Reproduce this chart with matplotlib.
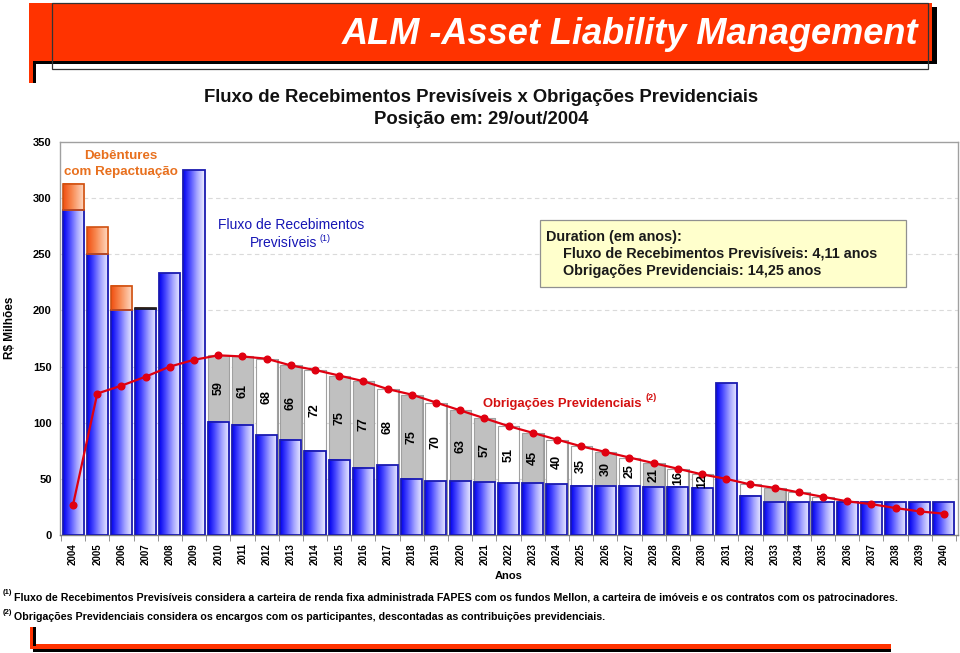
import numpy as np
import matplotlib
matplotlib.use("Agg")
import matplotlib.pyplot as plt
from matplotlib.colors import LinearSegmentedColormap
from matplotlib.patches import Rectangle

plt.rcParams['font.family'] = ['Liberation Sans', 'DejaVu Sans']

# ---------------- data ----------------
years = list(range(2004, 2041))
recebimentos = [289, 250, 200, 201, 233, 325, 101, 98, 89, 85, 75, 67, 60, 62, 50, 48,
                48, 47, 46, 46, 45, 44, 44, 44, 43, 43, 42, 135, 35, 29, 29, 29, 29, 29,
                29, 29, 29]
debentures = [23.5, 24, 22, 1, 0, 0, 0, 0, 0, 0, 0, 0, 0, 0, 0, 0, 0, 0, 0, 0, 0, 0, 0, 0,
              0, 0, 0, 0, 0, 0, 0, 0, 0, 0, 0, 0, 0]
obrigacoes = [27, 126, 133, 141, 150, 156, 160, 159, 157, 151, 147, 142, 137, 130, 125, 118,
              111, 104, 97, 91, 85, 79, 74, 69, 64, 59, 54, 50, 45, 42, 38, 34, 30, 27.5,
              24, 21, 19]
deficit_labels = {2010: 59, 2011: 61, 2012: 68, 2013: 66, 2014: 72, 2015: 75, 2016: 77,
                  2017: 68, 2018: 75, 2019: 70, 2020: 63, 2021: 57, 2022: 51, 2023: 45,
                  2024: 40, 2025: 35, 2026: 30, 2027: 25, 2028: 21, 2029: 16, 2030: 12}
gray_years = [2010, 2011, 2013, 2015, 2016, 2018, 2020, 2021, 2023, 2026, 2028, 2033]
yticks = [0, 50, 100, 150, 200, 250, 300, 350]

W, H = 960, 653
fig = plt.figure(figsize=(W / 100, H / 100), dpi=100)


def fx(px):
    return px / W


def fy(py):
    return 1 - py / H


# ---------------- header decoration ----------------
def frect(x0, y0, x1, y1, **kw):
    fig.add_artist(Rectangle((fx(x0), fy(y1)), fx(x1) - fx(x0), fy(y0) - fy(y1),
                             transform=fig.transFigure, **kw))


red = '#FF3300'
frect(33, 7, 937, 64, facecolor='black', edgecolor='none', zorder=1)
frect(29, 3, 932, 61, facecolor=red, edgecolor='none', zorder=2)
frect(29, 61, 33, 83, facecolor=red, edgecolor='none', zorder=2)
frect(33, 61, 36, 83, facecolor='black', edgecolor='none', zorder=2)
frect(52, 3, 928, 69, facecolor='none', edgecolor='#333333', lw=0.9, zorder=3)
fig.text(fx(918), fy(34), 'ALM -Asset Liability Management', color='white',
         fontsize=26, fontweight='bold', fontstyle='italic', ha='right', va='center',
         zorder=4)

# bottom decoration
frect(33, 646, 891, 652, facecolor='black', edgecolor='none', zorder=1)
frect(30, 644, 891, 649, facecolor=red, edgecolor='none', zorder=2)
frect(30, 627, 33, 649, facecolor=red, edgecolor='none', zorder=2)
frect(33, 627, 36, 646, facecolor='black', edgecolor='none', zorder=3)

# titles
fig.text(fx(481), fy(98), 'Fluxo de Recebimentos Previsíveis x Obrigações Previdenciais',
         fontsize=13.3, fontweight='bold', ha='center', va='center', color='#111111')
fig.text(fx(481), fy(120), 'Posição em: 29/out/2004', fontsize=13.3, fontweight='bold',
         ha='center', va='center', color='#111111')

# ---------------- axes ----------------
ax = fig.add_axes([fx(60), fy(535), fx(958) - fx(60), fy(142) - fy(535)])
x = np.arange(len(years))
bw = 0.87

blue_cmap = LinearSegmentedColormap.from_list(
    'blue', [(0, '#0000EE'), (0.3, '#4848FF'), (0.65, '#A8A8FF'), (1, '#F2F2FF')])
orange_cmap = LinearSegmentedColormap.from_list(
    'orange', [(0, '#F04E10'), (0.4, '#F88850'), (1, '#FFE0CC')])
grad = np.linspace(0, 1, 256).reshape(1, -1)

# obligations bars (gray/white) behind
for i, yr in enumerate(years):
    if obrigacoes[i] > recebimentos[i]:
        fc = '#C0C0C0' if yr in gray_years else 'white'
        ax.bar(x[i] + 0.06, obrigacoes[i], bw, color='#9a9a9a', edgecolor='none', zorder=1.9)
        ax.bar(x[i], obrigacoes[i], bw, color=fc, edgecolor='#A0A0A0', lw=0.8, zorder=2)

# gradient bars
for i, yr in enumerate(years):
    x0, x1 = x[i] - bw / 2, x[i] + bw / 2
    ax.imshow(grad, extent=(x0, x1, 0, recebimentos[i]), aspect='auto', cmap=blue_cmap,
              interpolation='bilinear', zorder=3)
    ax.bar(x[i], recebimentos[i], bw, fill=False, edgecolor='#1A1AB0', lw=1.3, zorder=3.1)
    if debentures[i] > 0:
        b = recebimentos[i]
        ax.imshow(grad, extent=(x0, x1, b, b + debentures[i]), aspect='auto',
                  cmap=orange_cmap, interpolation='bilinear', zorder=3)
        ec = '#D05010' if debentures[i] > 3 else '#202020'
        ax.bar(x[i], debentures[i], bw, bottom=b, fill=False, edgecolor=ec, lw=1.2,
               zorder=3.1)

# deficit labels
for i, yr in enumerate(years):
    if yr in deficit_labels:
        mid = (recebimentos[i] + obrigacoes[i]) / 2
        ax.text(x[i], mid, str(deficit_labels[yr]), rotation=90, ha='center', va='center',
                fontsize=9, fontweight='bold', color='black', zorder=6)

# obligations line
ax.plot(x, obrigacoes, color='#E00010', lw=1.6, marker='o', markersize=4.8,
        markerfacecolor='#E00010', markeredgecolor='#E00010', zorder=5)

ax.set_xlim(-0.54, 36.58)
ax.set_ylim(0, 350)
ax.set_yticks(yticks)
ax.set_yticklabels([str(v) for v in yticks], fontsize=8, fontweight='bold')
ax.tick_params(axis='y', length=0, pad=6)
ax.set_xticks(x)
ax.set_xticklabels([str(y) for y in years], rotation=90, fontsize=7, fontweight='bold')
ax.tick_params(axis='x', length=0, pad=6)
ax.set_xticks(np.arange(-0.5, len(years), 1), minor=True)
ax.tick_params(axis='x', which='minor', length=4, color='#808080')
for yv in yticks[1:-1]:
    ax.axhline(yv, color='#DADADA', lw=0.8, ls=(0, (4, 3)), zorder=0)
for s in ax.spines.values():
    s.set_color('#A0A0A0')
    s.set_linewidth(1.0)
ax.spines['bottom'].set_color('#808080')

ax.set_xlabel('Anos', fontsize=8, fontweight='bold', labelpad=4)
fig.text(fx(10), fy(328), 'R$ Milhões', rotation=90, fontsize=8.5, fontweight='bold',
         ha='center', va='center')

# annotations
fig.text(fx(121), fy(164), 'Debêntures\ncom Repactuação', color='#E8701E', fontsize=9.6,
         fontweight='bold', ha='center', va='center', linespacing=1.4)
fig.text(fx(291), fy(225), 'Fluxo de Recebimentos', color='#1515B5',
         fontsize=10, ha='center', va='center')
fig.text(fx(284), fy(243), 'Previsíveis', color='#1515B5',
         fontsize=10, ha='center', va='center')
fig.text(fx(320), fy(238), '(1)', color='#1515B5',
         fontsize=6.5, ha='left', va='center')
fig.add_artist(Rectangle((fx(540), fy(287)), fx(906) - fx(540), fy(220) - fy(287),
                         transform=fig.transFigure, facecolor='#FFFFCC',
                         edgecolor='#909090', lw=0.9, zorder=10))
fig.text(fx(546), fy(237), 'Duration (em anos):', fontsize=10.4, color='#1A1A1A',
         fontweight='bold', ha='left', va='center', zorder=11)
fig.text(fx(563), fy(254), 'Fluxo de Recebimentos Previsíveis: 4,11 anos', fontsize=10.4,
         fontweight='bold', color='#1A1A1A', ha='left', va='center', zorder=11)
fig.text(fx(563), fy(271), 'Obrigações Previdenciais: 14,25 anos', fontsize=10.4,
         fontweight='bold', color='#1A1A1A', ha='left', va='center', zorder=11)
fig.text(fx(483), fy(404), 'Obrigações Previdenciais', color='#D41010', fontsize=9.4,
         fontweight='bold', ha='left', va='center', zorder=11)
fig.text(fx(646), fy(398), '(2)', color='#D41010', fontsize=6.5, fontweight='bold',
         ha='left', va='center', zorder=11)

# footnotes
fig.text(fx(3), fy(593), '(1)', fontsize=5.5, fontweight='bold', ha='left', va='center')
fig.text(fx(14), fy(598),
         'Fluxo de Recebimentos Previsíveis considera a carteira de renda fixa administrada '
         'FAPES com os fundos Mellon, a carteira de imóveis e os contratos com os patrocinadores.',
         fontsize=7.7, fontweight='bold', ha='left', va='center')
fig.text(fx(3), fy(612), '(2)', fontsize=5.5, fontweight='bold', ha='left', va='center')
fig.text(fx(14), fy(617),
         'Obrigações Previdenciais considera os encargos com os participantes, descontadas as '
         'contribuições previdenciais.',
         fontsize=7.7, fontweight='bold', ha='left', va='center')

fig.savefig('out.png', dpi=100)
